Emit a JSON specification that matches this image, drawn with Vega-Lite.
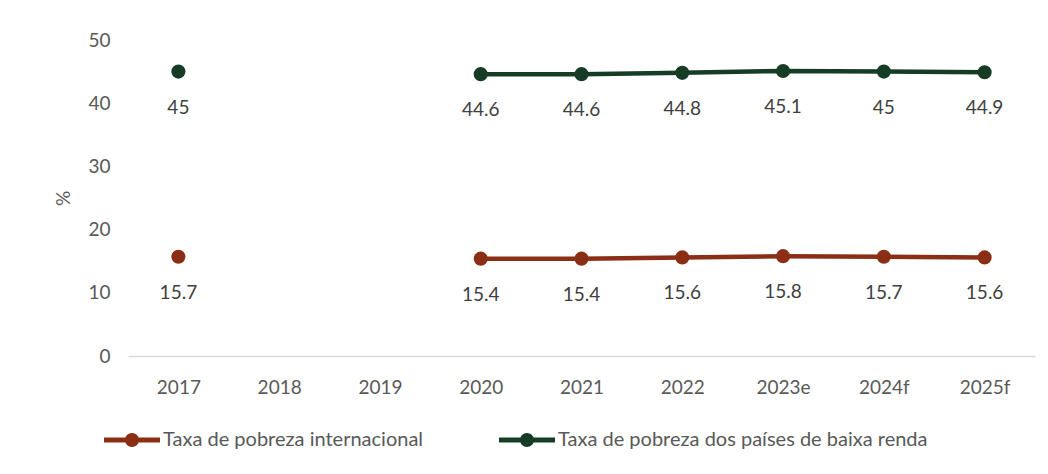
{
  "$schema": "https://vega.github.io/schema/vega-lite/v6.json",
  "autosize": {"type": "none"},
  "width": 907,
  "height": 316,
  "padding": {"left": 128, "top": 40, "right": 13, "bottom": 118},
  "background": "white",
  "config": {
    "view": {"stroke": null},
    "font": "Lato"
  },
  "data": {
    "values": [
      {"year": "2017", "series": "Taxa de pobreza internacional", "value": 15.7},
      {"year": "2020", "series": "Taxa de pobreza internacional", "value": 15.4},
      {"year": "2021", "series": "Taxa de pobreza internacional", "value": 15.4},
      {"year": "2022", "series": "Taxa de pobreza internacional", "value": 15.6},
      {"year": "2023e", "series": "Taxa de pobreza internacional", "value": 15.8},
      {"year": "2024f", "series": "Taxa de pobreza internacional", "value": 15.7},
      {"year": "2025f", "series": "Taxa de pobreza internacional", "value": 15.6},
      {"year": "2017", "series": "Taxa de pobreza dos países de baixa renda", "value": 45},
      {"year": "2020", "series": "Taxa de pobreza dos países de baixa renda", "value": 44.6},
      {"year": "2021", "series": "Taxa de pobreza dos países de baixa renda", "value": 44.6},
      {"year": "2022", "series": "Taxa de pobreza dos países de baixa renda", "value": 44.8},
      {"year": "2023e", "series": "Taxa de pobreza dos países de baixa renda", "value": 45.1},
      {"year": "2024f", "series": "Taxa de pobreza dos países de baixa renda", "value": 45},
      {"year": "2025f", "series": "Taxa de pobreza dos países de baixa renda", "value": 44.9}
    ]
  },
  "encoding": {
    "x": {
      "field": "year",
      "type": "ordinal",
      "scale": {"type": "point", "padding": 0.5, "domain": ["2017", "2018", "2019", "2020", "2021", "2022", "2023e", "2024f", "2025f"]},
      "axis": {
        "title": null,
        "labelAngle": 0,
        "labelFontSize": 19,
        "labelColor": "#595959",
        "labelFont": "Lato",
        "labelPadding": 22,
        "ticks": false,
        "domainColor": "#d9d9d9",
        "domainWidth": 1.5,
        "grid": false
      }
    },
    "y": {
      "field": "value",
      "type": "quantitative",
      "scale": {"domain": [0, 50], "nice": false, "zero": true},
      "axis": {
        "title": "%",
        "titleFontSize": 19,
        "titleFontWeight": "normal",
        "titleColor": "#595959",
        "titleFont": "Lato",
        "titlePadding": 14,
        "values": [0, 10, 20, 30, 40, 50],
        "labelFontSize": 19,
        "labelColor": "#595959",
        "labelFont": "Lato",
        "labelPadding": 18,
        "ticks": false,
        "domain": false,
        "grid": false
      }
    }
  },
  "layer": [
    {
      "transform": [{"filter": "datum.year != '2017'"}],
      "mark": {"type": "line", "strokeWidth": 4.5},
      "encoding": {
        "color": {
          "field": "series",
          "type": "nominal",
          "scale": {
            "domain": ["Taxa de pobreza internacional", "Taxa de pobreza dos países de baixa renda"],
            "range": ["#8b2e16", "#173c25"]
          },
          "legend": {
            "title": null,
            "orient": "none",
            "legendX": -24,
            "legendY": 372,
            "direction": "horizontal",
            "columns": 2,
            "columnPadding": 75,
            "symbolType": "M-1,-0.09 L1,-0.09 L1,0.09 L-1,0.09 Z M-0.25,0 A0.25,0.25 0 1,1 0.25,0 A0.25,0.25 0 1,1 -0.25,0 Z",
            "symbolSize": 3136,
            "symbolStrokeWidth": 0,
            "symbolOpacity": 1,
            "labelFontSize": 20,
            "labelColor": "#595959",
            "labelFont": "Lato",
            "labelLimit": 500,
            "labelOffset": 3
          }
        }
      }
    },
    {
      "mark": {"type": "point", "filled": true, "size": 200, "opacity": 1},
      "encoding": {
        "color": {
          "field": "series",
          "type": "nominal"
        }
      }
    },
    {
      "mark": {"type": "text", "dy": 36, "fontSize": 19, "color": "#404040", "font": "Lato"},
      "encoding": {
        "text": {"field": "value", "type": "quantitative", "format": ".1~f"}
      }
    }
  ]
}
